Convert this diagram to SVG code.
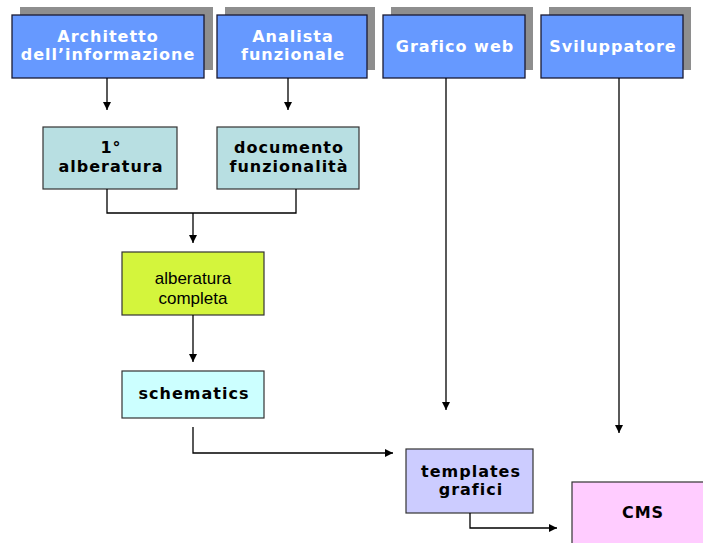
<svg xmlns="http://www.w3.org/2000/svg" width="703" height="543" viewBox="0 0 703 543">
<style>
.shadow{fill:#8e8e8e}
.role{fill:#6699ff;stroke:#1a1a33;stroke-width:1.3}
.rt{font-family:"DejaVu Sans",Verdana,sans-serif;font-weight:bold;font-size:16px;letter-spacing:1px;fill:#ffffff;text-anchor:middle}
.bt{font-family:"DejaVu Sans",Verdana,sans-serif;font-weight:bold;font-size:16px;letter-spacing:1px;fill:#000000;text-anchor:middle}
.nt{font-family:"Liberation Sans",Arial,sans-serif;font-size:17px;fill:#000000;text-anchor:middle}
.box{stroke:#333333;stroke-width:1.2}
.ln{fill:none;stroke:#000000;stroke-width:1.3}
</style>
<defs>
<marker id="ah" viewBox="0 0 10 10" refX="10" refY="5" markerWidth="8" markerHeight="8" markerUnits="userSpaceOnUse" orient="auto">
<path d="M0,0 L10,5 L0,10 z" fill="#000000"/>
</marker>
</defs>
<rect width="703" height="543" fill="#ffffff"/>
<g id="architetto">
<rect class="shadow" x="20" y="7" width="193" height="63"/>
<rect class="role" x="12" y="15" width="192" height="63"/>
<text class="rt" x="108" y="42">Architetto</text>
<text class="rt" x="108" y="60">dell’informazione</text>
</g>
<g id="analista">
<rect class="shadow" x="225" y="7" width="150" height="63"/>
<rect class="role" x="217" y="15" width="150" height="63"/>
<text class="rt" x="293" y="42">Analista</text>
<text class="rt" x="293" y="60">funzionale</text>
</g>
<g id="grafico">
<rect class="shadow" x="391" y="7" width="142" height="63"/>
<rect class="role" x="383" y="15" width="142" height="63"/>
<text class="rt" x="455" y="52">Grafico web</text>
</g>
<g id="sviluppatore">
<rect class="shadow" x="549" y="7" width="142" height="63"/>
<rect class="role" x="541" y="15" width="142" height="63"/>
<text class="rt" x="613" y="52">Sviluppatore</text>
</g>
<g id="alberatura1">
<rect class="box" x="43" y="127" width="134" height="62" fill="#b8dfe2"/>
<text class="bt" x="111" y="153">1°</text>
<text class="bt" x="111" y="172">alberatura</text>
</g>
<g id="documento">
<rect class="box" x="217" y="127" width="142" height="62" fill="#b8dfe2"/>
<text class="bt" x="289" y="153">documento</text>
<text class="bt" x="289" y="172">funzionalità</text>
</g>
<g id="alberatura-completa">
<rect class="box" x="122" y="252" width="142" height="63" fill="#d4f53c"/>
<text class="nt" x="193" y="284">alberatura</text>
<text class="nt" x="193" y="304">completa</text>
</g>
<g id="schematics">
<rect class="box" x="122" y="371" width="142" height="47" fill="#ccffff"/>
<text class="bt" x="194" y="399">schematics</text>
</g>
<g id="templates">
<rect class="box" x="406" y="449" width="127" height="64" fill="#ccccff"/>
<text class="bt" x="471" y="477">templates</text>
<text class="bt" x="471" y="495">grafici</text>
</g>
<g id="cms">
<rect class="box" x="572" y="482" width="140" height="70" fill="#ffccff"/>
<text class="bt" x="643" y="518">CMS</text>
</g>
<g id="connectors">
<path class="ln" d="M107,78 V110" marker-end="url(#ah)"/>
<path class="ln" d="M288,78 V110" marker-end="url(#ah)"/>
<path class="ln" d="M446,78 V410" marker-end="url(#ah)"/>
<path class="ln" d="M619,78 V433" marker-end="url(#ah)"/>
<path class="ln" d="M107,189 V213 H296 V189"/>
<path class="ln" d="M193,213 V243" marker-end="url(#ah)"/>
<path class="ln" d="M193,315 V362" marker-end="url(#ah)"/>
<path class="ln" d="M193,427 V453 H393" marker-end="url(#ah)"/>
<path class="ln" d="M470,513 V528 H557" marker-end="url(#ah)"/>
</g>
</svg>
